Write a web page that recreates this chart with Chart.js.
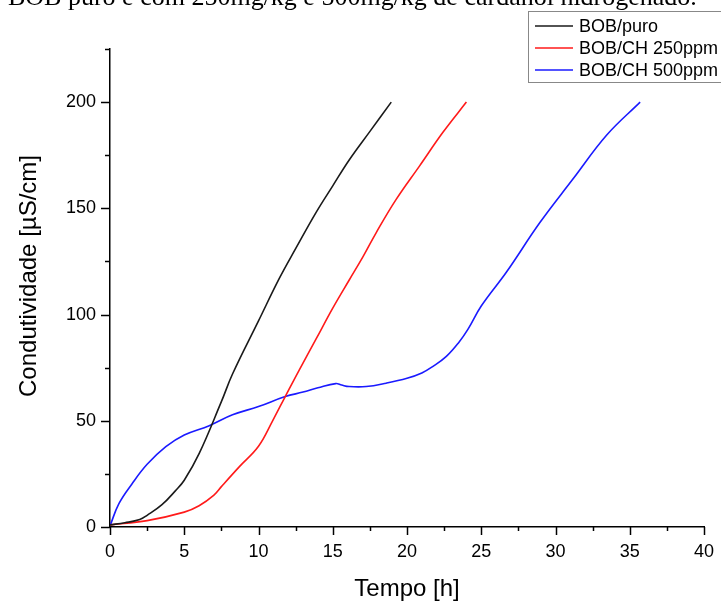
<!DOCTYPE html>
<html>
<head>
<meta charset="utf-8">
<script src="https://cdn.jsdelivr.net/npm/chart.js@4"></script>
<style>
  body { margin: 0; background: #fff; }
  #wrap { width: 721px; height: 603px; }
</style>
</head>
<body>
<div id="wrap"><canvas id="condChart" width="721" height="603"></canvas></div>
<script>
// tempo [h] e condutividade [uS/cm]
const puroT = [0, 1, 2, 2.5, 3.5, 4.4, 5, 6, 7.5, 8.25, 10, 11.4, 12.5, 13.87, 15, 16.13, 17.48, 18.94];
const puroY = [1, 2, 3.5, 5.5, 10.5, 17, 22, 34.5, 59, 72, 97, 117, 131, 148, 160.6, 173, 186, 200];

const ch250T = [0, 2.5, 5, 6, 7, 7.5, 8.7, 10, 10.95, 11.8, 12.75, 13.88, 15, 16.13, 17.02, 17.93, 19.27, 20.85, 22.42, 24];
const ch250Y = [1, 3, 7, 10, 15, 19, 28.3, 38, 50, 61.4, 74, 88.5, 103, 116.5, 127, 138.6, 154.2, 170, 185.8, 200];

const ch500T = [0, 0.6, 1.5, 2.5, 3.76, 5, 6.68, 8.25, 10, 11.8, 13, 14, 15.2, 15.6, 16.1, 17.25, 18.6, 20, 21, 21.75, 22.65, 23.5, 24.1, 25, 26.7, 28.95, 31.2, 33.45, 35.7];
const ch500Y = [0.5, 11, 20.5, 29.5, 37.8, 43.3, 47.7, 52.8, 56.7, 61.4, 63.5, 65.5, 67.5, 66.8, 66.1, 66.1, 67.7, 70, 72.5, 75.6, 80.3, 87, 93, 104, 120, 143.3, 164, 184.5, 200];

const seriesLabels = ['BOB/puro', 'BOB/CH 250ppm', 'BOB/CH 500ppm'];
const seriesColors = ['#1a1a1a', '#ff1a1a', '#1a1aff'];

const xTicks = [0, 5, 10, 15, 20, 25, 30, 35, 40];
const yTicks = [0, 50, 100, 150, 200];

const topText = 'BOB puro e com 250mg/kg e 500mg/kg de cardanol hidrogenado.';

const toPoints = (ts, ys) => ts.map((t, i) => ({ x: t, y: ys[i] }));

// ticks maiores e menores, titulos, legenda e texto do topo
const ticksPlugin = {
  id: 'originTicks',
  afterDraw(chart) {
    const ctx = chart.ctx;
    const xs = chart.scales.x, ys = chart.scales.y;
    const a = chart.chartArea;
    ctx.save();
    ctx.strokeStyle = '#000';
    ctx.lineWidth = 1.5;
    for (let v = 0; v <= 40; v += 2.5) {
      const px = Math.round(xs.getPixelForValue(v)) + 0.5;
      const len = (v % 5 === 0) ? 8 : 4;
      ctx.beginPath();
      ctx.moveTo(px, a.bottom);
      ctx.lineTo(px, a.bottom + len);
      ctx.stroke();
    }
    for (let v = 0; v <= 225; v += 25) {
      const py = Math.round(ys.getPixelForValue(v)) + 0.5;
      const len = (v % 50 === 0) ? 9 : 5;
      ctx.beginPath();
      ctx.moveTo(a.left, py);
      ctx.lineTo(a.left - len, py);
      ctx.stroke();
    }
    ctx.fillStyle = '#000';
    ctx.font = '24px "Liberation Sans", Arial, sans-serif';
    ctx.textAlign = 'center';
    ctx.textBaseline = 'alphabetic';
    ctx.fillText('Tempo [h]', (a.left + a.right) / 2, 596);
    ctx.save();
    ctx.translate(36, 276);
    ctx.rotate(-Math.PI / 2);
    ctx.fillText('Condutividade [µS/cm]', 0, 0);
    ctx.restore();

    ctx.font = '26px "Liberation Serif", "Times New Roman", serif';
    ctx.textAlign = 'left';
    ctx.fillText(topText, 8, 5);

    const lx = 528.5, ly = 11.5;
    ctx.strokeStyle = '#888';
    ctx.lineWidth = 1;
    ctx.strokeRect(lx, ly, 220, 71);
    ctx.font = '18px "Liberation Sans", Arial, sans-serif';
    ctx.textBaseline = 'middle';
    chart.data.datasets.forEach((ds, i) => {
      const y = 26 + i * 22;
      ctx.strokeStyle = ds.borderColor;
      ctx.lineWidth = 1.5;
      ctx.beginPath();
      ctx.moveTo(535, y);
      ctx.lineTo(573, y);
      ctx.stroke();
      ctx.fillStyle = '#000';
      ctx.fillText(ds.label, 579, y + 1);
    });
    ctx.restore();
  }
};

new Chart(document.getElementById('condChart').getContext('2d'), {
  type: 'line',
  data: {
    datasets: [
      { label: seriesLabels[0], data: toPoints(puroT, puroY) },
      { label: seriesLabels[1], data: toPoints(ch250T, ch250Y) },
      { label: seriesLabels[2], data: toPoints(ch500T, ch500Y) }
    ].map((ds, i) => Object.assign(ds, {
      borderColor: seriesColors[i],
      borderWidth: 1.6,
      pointRadius: 0,
      fill: false,
      tension: 0.4
    }))
  },
  options: {
    responsive: false,
    animation: false,
    layout: { padding: { top: 49, right: 17, left: 0, bottom: 0 } },
    plugins: { legend: { display: false }, tooltip: { enabled: false } },
    scales: {
      x: {
        type: 'linear',
        min: 0, max: 40,
        afterFit: s => { s.height = 76; s.paddingLeft = 0; s.paddingRight = 0; },
        afterBuildTicks: s => { s.ticks = xTicks.map(v => ({ value: v })); },
        grid: { display: false, drawTicks: false },
        border: { display: true, color: '#000', width: 1.5 },
        ticks: { color: '#000', padding: 14, maxRotation: 0,
                 font: { family: '"Liberation Sans", Arial, sans-serif', size: 18 } }
      },
      y: {
        type: 'linear',
        min: 0, max: 225,
        afterFit: s => { s.width = 110; s.paddingTop = 0; s.paddingBottom = 0; },
        afterBuildTicks: s => { s.ticks = yTicks.map(v => ({ value: v })); },
        grid: { display: false, drawTicks: false },
        border: { display: true, color: '#000', width: 1.5 },
        ticks: { color: '#000', padding: 14,
                 font: { family: '"Liberation Sans", Arial, sans-serif', size: 18 } }
      }
    }
  },
  plugins: [ticksPlugin]
});
</script>
</body>
</html>
